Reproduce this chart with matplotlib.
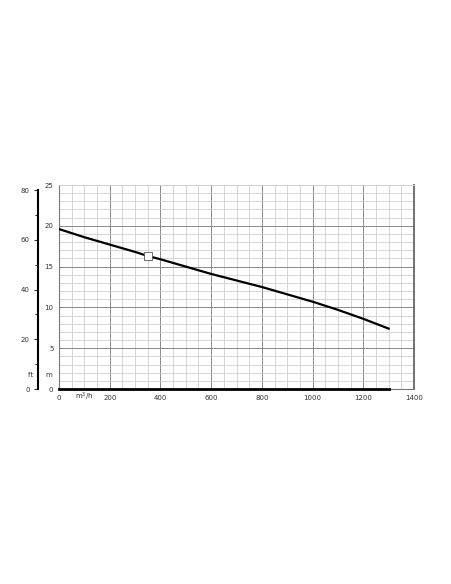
import matplotlib
matplotlib.use("Agg")
import matplotlib.pyplot as plt
from matplotlib.ticker import MultipleLocator

# pump curve
flow = [0, 100, 200, 300, 350, 400, 500, 600, 700, 800, 900, 1000, 1100, 1200, 1300]
head = [19.6, 18.6, 17.7, 16.8, 16.3, 15.9, 15.0, 14.1, 13.3, 12.5, 11.6, 10.7, 9.7, 8.6, 7.4]
duty_q = [350]
duty_h = [16.3]

x_ticks = [0, 200, 400, 600, 800, 1000, 1200, 1400]
x_labels = ["0", "200", "400", "600", "800", "1000", "1200", "1400"]
m_ticks = [0, 5, 10, 15, 20, 25]
ft_ticks = [0, 20, 40, 60, 80]

FS = 5
TXT = "#333333"
fig = plt.figure(figsize=(4.52, 5.84), dpi=100)
ax = fig.add_axes([59 / 452, 195 / 584, 355 / 452, 204 / 584])

ax.set_xlim(0, 1400)
ax.set_ylim(0, 25)
ax.xaxis.set_major_locator(MultipleLocator(200))
ax.xaxis.set_minor_locator(MultipleLocator(50))
ax.yaxis.set_major_locator(MultipleLocator(5))
ax.yaxis.set_minor_locator(MultipleLocator(1))
ax.grid(which="major", color="#8a8a8a", linewidth=0.7)
ax.grid(which="minor", color="#c8c8c8", linewidth=0.5)
ax.set_axisbelow(True)

ax.set_xticks(x_ticks)
ax.set_xticklabels(x_labels)
ax.set_yticks(m_ticks)
ax.tick_params(axis="both", which="both", length=0, labelsize=FS, colors=TXT, pad=4)
ax.annotate("m$^3$/h", xy=(100, 0), xytext=(0, -7.6), textcoords="offset points",
            fontsize=FS, ha="center", va="baseline", color=TXT, annotation_clip=False)
ax.text(-0.02, 1.7, "m", fontsize=FS, ha="right", va="center", color=TXT,
        transform=ax.get_yaxis_transform())

ax.spines["top"].set_color("#dddddd")
ax.spines["top"].set_linewidth(0.6)
ax.spines["right"].set_color("#666666")
ax.spines["right"].set_linewidth(1.3)
ax.spines["left"].set_color("#777777")
ax.spines["left"].set_linewidth(0.8)
ax.spines["bottom"].set_color("#777777")
ax.spines["bottom"].set_linewidth(0.8)

# thick base line under the operating range
ax.plot([0, flow[-1]], [0, 0], color="black", linewidth=2.0, clip_on=False, zorder=5)

ax.plot(flow, head, color="black", linewidth=1.6, zorder=6)
ax.plot(duty_q, duty_h, marker="s", markersize=5.5, markerfacecolor="white",
        markeredgecolor="#555555", markeredgewidth=0.6, linestyle="none", zorder=7)

# feet scale
ax2 = ax.twinx()
ax2.set_ylim(0, 25 * 3.28084)
ax2.yaxis.set_ticks_position("left")
ax2.yaxis.set_label_position("left")
ax2.spines["left"].set_position(("axes", -0.059))
ax2.spines["left"].set_bounds(0, 80)
ax2.spines["left"].set_linewidth(1.5)
ax2.spines["left"].set_color("black")
for s in ["right", "top", "bottom"]:
    ax2.spines[s].set_visible(False)
ax2.set_yticks(ft_ticks)
ax2.yaxis.set_minor_locator(MultipleLocator(10))
ax2.tick_params(axis="y", which="major", length=3, width=0.8, labelsize=FS, colors=TXT, pad=3)
ax2.tick_params(axis="y", which="minor", length=2, width=0.6)
ax2.text(-0.059, 5.6, "ft  ", fontsize=FS, ha="right", va="center", color=TXT,
         transform=ax2.get_yaxis_transform())

fig.savefig("out.png", dpi=100)
